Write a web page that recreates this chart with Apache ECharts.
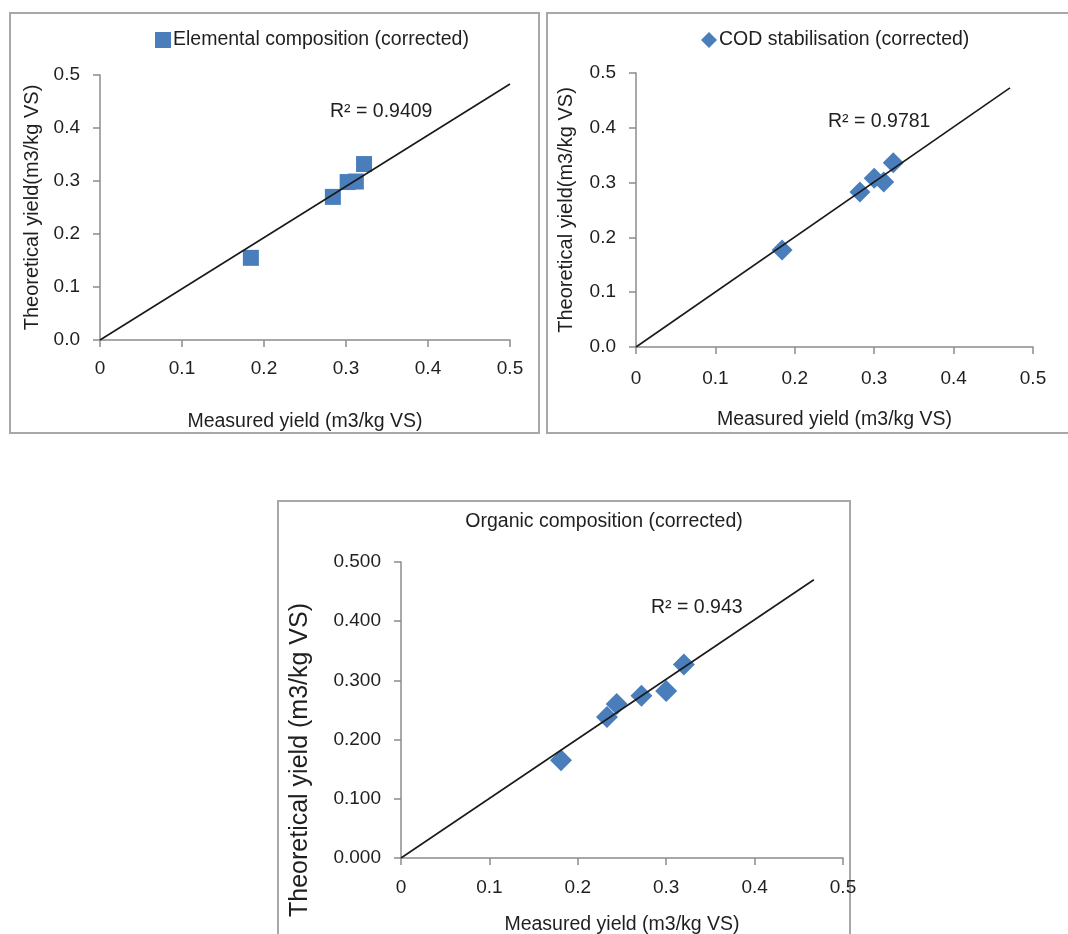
<!DOCTYPE html>
<html>
<head>
<meta charset="utf-8">
<script src="https://cdn.jsdelivr.net/npm/echarts@6/dist/echarts.min.js"></script>
<style>
  html, body { margin: 0; padding: 0; background: #fff; }
  #chart { width: 1068px; height: 934px; }
</style>
</head>
<body>
<div id="chart"></div>
<script>
// Measured vs theoretical methane yield (m3/kg VS), three estimation methods
const elementalPoints = [[0.184, 0.155], [0.284, 0.270], [0.302, 0.298], [0.312, 0.299], [0.322, 0.332]];
const codPoints = [[0.184, 0.177], [0.282, 0.283], [0.300, 0.308], [0.312, 0.301], [0.324, 0.336]];
const organicPoints = [[0.181, 0.165], [0.233, 0.238], [0.244, 0.260], [0.272, 0.274], [0.300, 0.282], [0.320, 0.327]];

// Linear trendlines (through the origin)
const elementalTrend = [[0, 0], [0.5, 0.483]];
const codTrend = [[0, 0], [0.471, 0.473]];
const organicTrend = [[0, 0], [0.467, 0.470]];

const r2Labels = ['R² = 0.9409', 'R² = 0.9781', 'R² = 0.943'];
const seriesNames = ['Elemental composition (corrected)', 'COD stabilisation (corrected)', 'Organic composition (corrected)'];

const xTickLabels = ['0', '0.1', '0.2', '0.3', '0.4', '0.5'];
const yTickLabelsShort = ['0.0', '0.1', '0.2', '0.3', '0.4', '0.5'];
const yTickLabelsLong = ['0.000', '0.100', '0.200', '0.300', '0.400', '0.500'];

const xTitle = 'Measured yield (m3/kg VS)';
const yTitles = ['Theoretical yield(m3/kg VS)', 'Theoretical yield(m3/kg VS)', 'Theoretical yield (m3/kg VS)'];

const FONT = 'Liberation Sans, Arial, sans-serif';
const BLUE = '#4a7ebb';
const AXIS_GRAY = '#8c8c8c';
const TEXT = '#1f1f1f';
const TXT = 19.5;   // titles, legend, axis names
const TICK = 19;    // tick labels

const grids = [
  { left: 100, top: 75, width: 410, height: 265, outerBoundsMode: 'none', containLabel: false },
  { left: 636, top: 73, width: 397, height: 274, outerBoundsMode: 'none', containLabel: false },
  { left: 401, top: 562, width: 442, height: 296, outerBoundsMode: 'none', containLabel: false }
];

function tickLabelFrom(labels) {
  return function (v) {
    const i = Math.round(v / 0.1);
    return labels[i] !== undefined ? labels[i] : '';
  };
}

function xAxis(idx, gap, margin) {
  return {
    gridIndex: idx, type: 'value', min: 0, max: 0.5, interval: 0.1,
    name: xTitle, nameLocation: 'middle', nameGap: gap,
    nameTextStyle: { fontFamily: FONT, fontSize: TXT, color: TEXT },
    axisLine: { show: true, lineStyle: { color: AXIS_GRAY, width: 1.5 } },
    axisTick: { show: true, length: 7, lineStyle: { color: AXIS_GRAY, width: 1.5 } },
    axisLabel: { fontFamily: FONT, fontSize: TICK, color: TEXT, margin: margin, formatter: tickLabelFrom(xTickLabels) },
    splitLine: { show: false }
  };
}

function yAxis(idx, gap, labels, nameSize, namePad) {
  return {
    gridIndex: idx, type: 'value', min: 0, max: 0.5, interval: 0.1,
    name: yTitles[idx], nameLocation: 'middle', nameGap: gap,
    nameTextStyle: { fontFamily: FONT, fontSize: nameSize, color: TEXT, padding: namePad },
    axisLine: { show: true, lineStyle: { color: AXIS_GRAY, width: 1.5 } },
    axisTick: { show: true, length: 7, lineStyle: { color: AXIS_GRAY, width: 1.5 } },
    axisLabel: { fontFamily: FONT, fontSize: TICK, color: TEXT, margin: 20, formatter: tickLabelFrom(labels) },
    splitLine: { show: false }
  };
}

function scatter(idx, data, symbol, size) {
  return {
    name: seriesNames[idx], type: 'scatter', xAxisIndex: idx, yAxisIndex: idx,
    data: data, symbol: symbol, symbolSize: size,
    itemStyle: { color: BLUE, opacity: 1 }, z: 2, silent: true
  };
}

function trend(idx, data) {
  return {
    name: 'trend' + idx, type: 'line', xAxisIndex: idx, yAxisIndex: idx,
    data: data, showSymbol: false, symbol: 'none',
    lineStyle: { color: '#1a1a1a', width: 1.6 }, z: 3, silent: true
  };
}

const border = (x, y, w, h) => ({
  type: 'rect', shape: { x: x, y: y, width: w, height: h },
  style: { fill: 'none', stroke: '#a8a8a8', lineWidth: 2 }, silent: true
});

const r2Text = (x, y, t) => ({
  type: 'text', x: x, y: y,
  style: { text: t, fontFamily: FONT, fontSize: TXT, fill: TEXT, textVerticalAlign: 'middle' }
});

const chart = echarts.init(document.getElementById('chart'), null, { renderer: 'canvas' });

chart.setOption({
  animation: false,
  backgroundColor: '#ffffff',
  grid: grids,
  xAxis: [xAxis(0, 72, 19), xAxis(1, 63, 22), xAxis(2, 57, 20)],
  yAxis: [
    yAxis(0, 58, yTickLabelsShort, 20, 0),
    yAxis(1, 60, yTickLabelsShort, 20, 0),
    yAxis(2, 88, yTickLabelsLong, 25, [0, 100, 0, 0])
  ],
  title: {
    text: seriesNames[2], left: 599, top: 507, textAlign: 'center',
    textStyle: { fontFamily: FONT, fontSize: TXT, fontWeight: 'normal', color: TEXT }
  },
  legend: [
    {
      data: [seriesNames[0]], left: 150, top: 25, itemWidth: 16, itemHeight: 16, itemGap: 4,
      icon: 'rect', textStyle: { fontFamily: FONT, fontSize: TXT, color: TEXT, padding: [0, 0, 0, -3] }
    },
    {
      data: [seriesNames[1]], left: 696, top: 25, itemWidth: 16, itemHeight: 16, itemGap: 4,
      icon: 'diamond', textStyle: { fontFamily: FONT, fontSize: TXT, color: TEXT, padding: [0, 0, 0, -3] }
    }
  ],
  graphic: [
    border(10, 13, 529, 420),
    border(547, 13, 525, 420),
    border(278, 501, 572, 440),
    r2Text(330, 112, r2Labels[0]),
    r2Text(828, 122, r2Labels[1]),
    r2Text(651, 608, r2Labels[2])
  ],
  series: [
    scatter(0, elementalPoints, 'rect', 16),
    trend(0, elementalTrend),
    scatter(1, codPoints, 'diamond', 21),
    trend(1, codTrend),
    scatter(2, organicPoints, 'diamond', 22),
    trend(2, organicTrend)
  ]
});
</script>
</body>
</html>
